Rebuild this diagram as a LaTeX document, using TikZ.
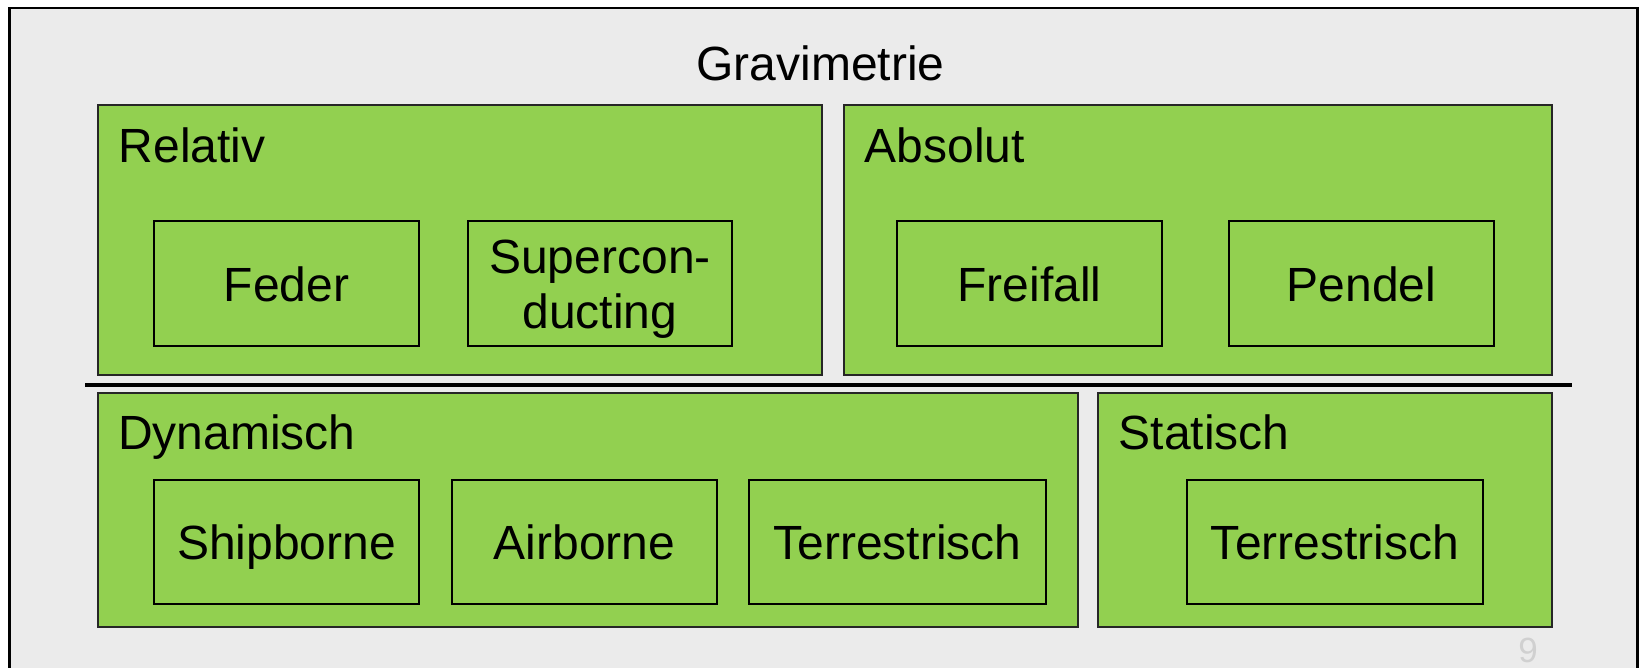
\documentclass[tikz,border=0pt]{standalone}
\usepackage{fontspec}
\setmainfont{Liberation Sans}
\definecolor{boxgreen}{HTML}{92D050}
\definecolor{slidebg}{HTML}{EBEBEB}
\definecolor{pagenum}{HTML}{D0D0D0}
\tikzset{
  groupbox/.style={draw=black!85, fill=boxgreen, line width=2pt, inner sep=0pt, anchor=center},
  itembox/.style={draw=black, fill=boxgreen, line width=2pt, inner sep=0pt, anchor=center,
    align=center, minimum height=125pt, text height=35pt, text depth=0pt},
  grouplabel/.style={anchor=base west, inner sep=0pt},
  bigtext/.style={font=\fontsize{48}{55}\selectfont}
}
\begin{document}
\begin{tikzpicture}[x=1pt,y=-1pt,bigtext]
\useasboundingbox (0,0) rectangle (1641,667);
\clip (0,0) rectangle (1641,667);
\fill[white] (0,0) rectangle (1641,667);
\draw[fill=slidebg, line width=2.5pt] (9.5,8) rectangle (1637.5,700);

\node[anchor=base] (title) at (820.5,80.6) {Gravimetrie};

% group boxes
\node[groupbox, minimum width=724pt, minimum height=270pt] (relativ) at (460,240) {};
\node[groupbox, minimum width=708pt, minimum height=270pt] (absolut) at (1198,240) {};
\node[groupbox, minimum width=980pt, minimum height=234.5pt] (dynamisch) at (588,509.75) {};
\node[groupbox, minimum width=454pt, minimum height=234.5pt] (statisch) at (1325,509.75) {};

\node[grouplabel] (relativlbl) at (118.5,162.7) {Relativ};
\node[grouplabel] (absolutlbl) at (864.5,162.7) {Absolut};
\node[grouplabel] (dynamischlbl) at (118,449.3) {Dynamisch};
\node[grouplabel] (statischlbl) at (1118.5,449.3) {Statisch};

% separator
\coordinate (sepL) at (85,385);
\coordinate (sepR) at (1572,385);
\draw[line width=3.5pt] (sepL) -- (sepR);

% item boxes
\node[itembox, minimum width=265pt] (feder) at (286.5,283.75) {Feder};
\node[itembox, minimum width=264pt, text height=, text depth=0pt] (supercon) at (600,283.75) {Supercon-\\ducting};
\node[itembox, minimum width=265pt] (freifall) at (1029.5,283.75) {Freifall};
\node[itembox, minimum width=265pt] (pendel) at (1361.5,283.75) {Pendel};

\node[itembox, minimum width=265pt, minimum height=124pt] (shipborne) at (286.5,541.5) {Shipborne};
\node[itembox, minimum width=265pt, minimum height=124pt] (airborne) at (584.5,541.5) {Airborne};
\node[itembox, minimum width=297pt, minimum height=124pt] (terrdyn) at (897.5,541.5) {Terrestrisch};
\node[itembox, minimum width=296pt, minimum height=124pt] (terrstat) at (1335,541.5) {Terrestrisch};

\node[anchor=base, text=pagenum, font=\fontsize{35}{40}\selectfont, inner sep=0pt] (pagenr) at (1528,662) {9};
\end{tikzpicture}
\end{document}
